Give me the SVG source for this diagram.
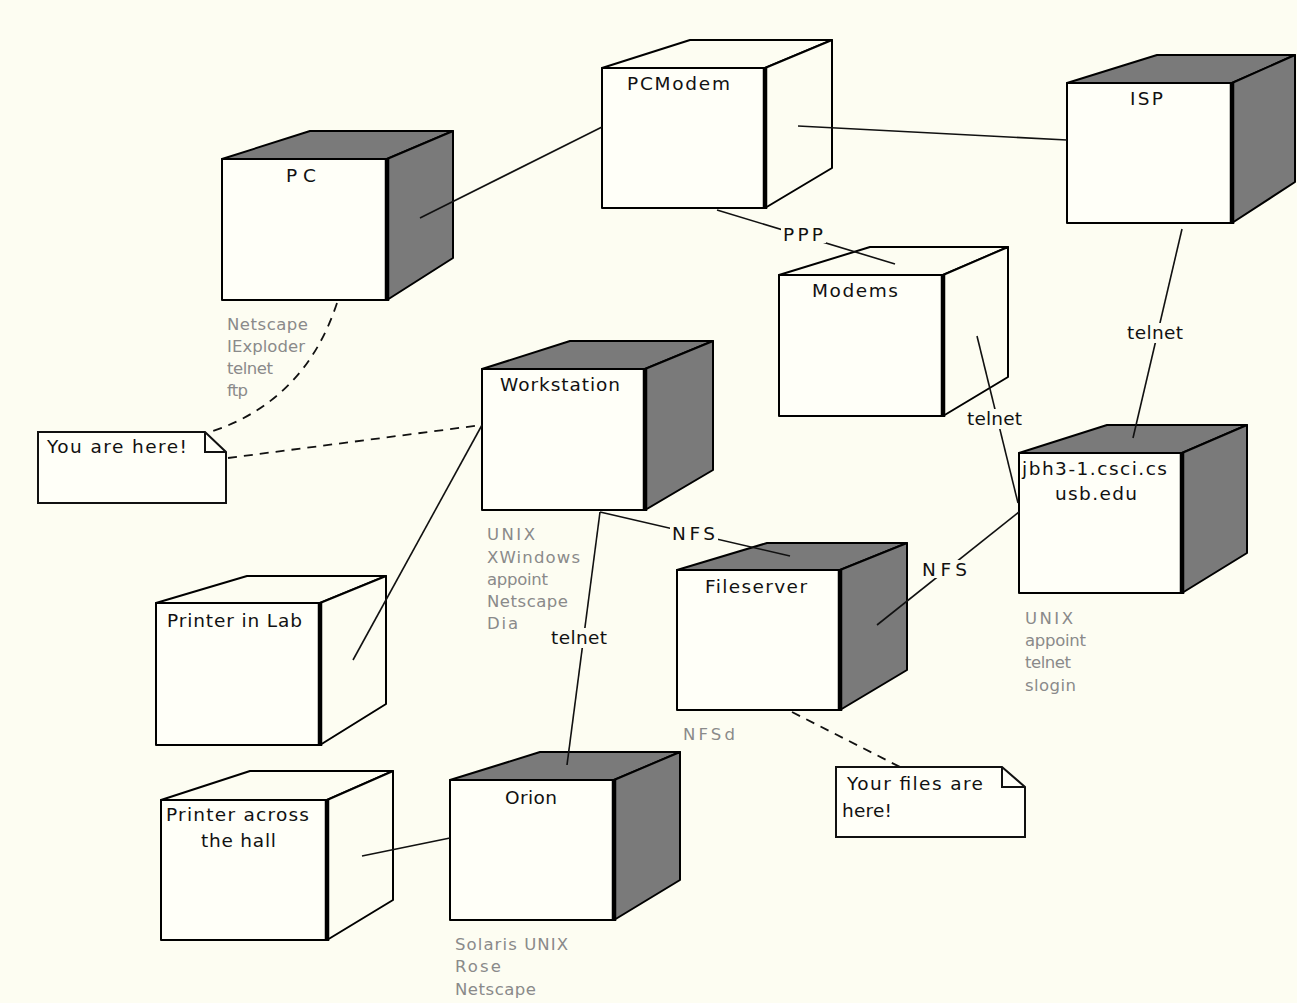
<svg xmlns="http://www.w3.org/2000/svg" width="1297" height="1003" viewBox="0 0 1297 1003">
<style>
.bg{fill:#fdfdf2}
.f{fill:#fffff8;stroke:#000;stroke-width:2;stroke-linejoin:round}
.u{fill:#fdfdf2;stroke:#000;stroke-width:2;stroke-linejoin:round}
.s{fill:#7a7a7a;stroke:#000;stroke-width:2;stroke-linejoin:round}
.e{stroke:#000;stroke-width:4.5}
.lbl{font-family:"DejaVu Sans",sans-serif;font-size:18.5px;fill:#111}
.ann{font-family:"DejaVu Sans",sans-serif;font-size:16.5px;fill:#8a8a8a}
.c{fill:none;stroke:#111;stroke-width:1.6}
.d{fill:none;stroke:#111;stroke-width:1.8;stroke-dasharray:9 7}
.lb{fill:#fdfdf2}
.note{fill:#fffff8;stroke:#111;stroke-width:2}
</style>
<rect class="bg" x="0" y="0" width="1297" height="1003"/>

<g id="pc">
<polygon class="s" points="222,159 310,131 453,131 387,159"/>
<polygon class="s" points="387,159 453,131 453,258 387,300"/>
<rect class="f" x="222" y="159" width="165" height="141"/>
<line class="e" x1="387" y1="159" x2="387" y2="301"/>
<text class="lbl" x="301" y="182" text-anchor="middle" textLength="30">PC</text>
<text class="ann" x="227" y="330" textLength="81">Netscape</text>
<text class="ann" x="227" y="352" textLength="78">IExploder</text>
<text class="ann" x="227" y="374" textLength="46">telnet</text>
<text class="ann" x="227" y="396" textLength="21">ftp</text>
</g>

<g id="pcmodem">
<polygon class="u" points="602,68 690,40 832,40 765,68"/>
<polygon class="u" points="765,68 832,40 832,168 765,208"/>
<rect class="f" x="602" y="68" width="163" height="140"/>
<line class="e" x1="765" y1="68" x2="765" y2="209"/>
<text class="lbl" x="627" y="90" textLength="103">PCModem</text>
</g>

<g id="isp">
<polygon class="s" points="1067,83 1157,55 1295,55 1232,83"/>
<polygon class="s" points="1232,83 1295,55 1295,182 1232,223"/>
<rect class="f" x="1067" y="83" width="165" height="140"/>
<line class="e" x1="1232" y1="83" x2="1232" y2="224"/>
<text class="lbl" x="1130" y="105" textLength="33">ISP</text>
</g>

<g id="modems">
<polygon class="u" points="779,275 870,247 1008,247 943,275"/>
<polygon class="u" points="943,275 1008,247 1008,377 943,416"/>
<rect class="f" x="779" y="275" width="164" height="141"/>
<line class="e" x1="943" y1="275" x2="943" y2="417"/>
<text class="lbl" x="812" y="297" textLength="86">Modems</text>
</g>

<g id="workstation">
<polygon class="s" points="482,369 570,341 713,341 645,369"/>
<polygon class="s" points="645,369 713,341 713,470 645,510"/>
<rect class="f" x="482" y="369" width="163" height="141"/>
<line class="e" x1="645" y1="369" x2="645" y2="511"/>
<text class="lbl" x="500" y="391" textLength="120">Workstation</text>
<text class="ann" x="487" y="540" textLength="48">UNIX</text>
<text class="ann" x="487" y="563" textLength="93">XWindows</text>
<text class="ann" x="487" y="585" textLength="61">appoint</text>
<text class="ann" x="487" y="607" textLength="81">Netscape</text>
<text class="ann" x="487" y="629" textLength="31">Dia</text>
</g>

<g id="jbh3">
<polygon class="s" points="1019,453 1107,425 1247,425 1182,453"/>
<polygon class="s" points="1182,453 1247,425 1247,553 1182,593"/>
<rect class="f" x="1019" y="453" width="163" height="140"/>
<line class="e" x1="1182" y1="453" x2="1182" y2="594"/>
<text class="lbl" x="1022" y="475" textLength="145">jbh3-1.csci.cs</text>
<text class="lbl" x="1055" y="500" textLength="82">usb.edu</text>
<text class="ann" x="1025" y="624" textLength="48">UNIX</text>
<text class="ann" x="1025" y="646" textLength="61">appoint</text>
<text class="ann" x="1025" y="668" textLength="46">telnet</text>
<text class="ann" x="1025" y="691" textLength="51">slogin</text>
</g>

<g id="fileserver">
<polygon class="s" points="677,570 767,543 907,543 840,570"/>
<polygon class="s" points="840,570 907,543 907,670 840,710"/>
<rect class="f" x="677" y="570" width="163" height="140"/>
<line class="e" x1="840" y1="570" x2="840" y2="711"/>
<text class="lbl" x="705" y="593" textLength="102">Fileserver</text>
<text class="ann" x="683" y="740" textLength="52">NFSd</text>
</g>

<g id="printer-lab">
<polygon class="u" points="156,603 247,576 386,576 320,603"/>
<polygon class="u" points="320,603 386,576 386,704 320,745"/>
<rect class="f" x="156" y="603" width="164" height="142"/>
<line class="e" x1="320" y1="603" x2="320" y2="746"/>
<text class="lbl" x="167" y="627" textLength="135">Printer in Lab</text>
</g>

<g id="printer-hall">
<polygon class="u" points="161,800 250,771 393,771 327,800"/>
<polygon class="u" points="327,800 393,771 393,900 327,940"/>
<rect class="f" x="161" y="800" width="166" height="140"/>
<line class="e" x1="327" y1="800" x2="327" y2="941"/>
<text class="lbl" x="166" y="821" textLength="143">Printer across</text>
<text class="lbl" x="201" y="847" textLength="75">the hall</text>
</g>

<g id="orion">
<polygon class="s" points="450,780 540,752 680,752 614,780"/>
<polygon class="s" points="614,780 680,752 680,880 614,920"/>
<rect class="f" x="450" y="780" width="164" height="140"/>
<line class="e" x1="614" y1="780" x2="614" y2="921"/>
<text class="lbl" x="505" y="804" textLength="52">Orion</text>
<text class="ann" x="455" y="950" textLength="113">Solaris UNIX</text>
<text class="ann" x="455" y="972" textLength="46">Rose</text>
<text class="ann" x="455" y="995" textLength="81">Netscape</text>
</g>

<g id="note-here">
<path class="note" d="M38,432 L205,432 L226,452 L226,503 L38,503 Z"/>
<path fill="none" stroke="#111" stroke-width="2" d="M205,432 L205,452 L226,452"/>
<text class="lbl" x="47" y="453" textLength="140">You are here!</text>
</g>

<g id="note-files">
<path class="note" d="M836,767 L1002,767 L1025,787 L1025,837 L836,837 Z"/>
<path fill="none" stroke="#111" stroke-width="2" d="M1002,767 L1002,787 L1025,787"/>
<text class="lbl" x="847" y="790" textLength="136">Your files are</text>
<text class="lbl" x="842" y="817" textLength="50">here!</text>
</g>

<g id="connectors">
<line class="c" x1="420" y1="218" x2="602" y2="127"/>
<line class="c" x1="798" y1="126" x2="1067" y2="140"/>
<line class="c" x1="717" y1="210" x2="895" y2="264"/>
<line class="c" x1="977" y1="336" x2="1018" y2="503"/>
<line class="c" x1="1182" y1="229" x2="1133" y2="438"/>
<line class="c" x1="600" y1="512" x2="790" y2="556"/>
<line class="c" x1="877" y1="625" x2="1019" y2="512"/>
<line class="c" x1="600" y1="512" x2="567" y2="765"/>
<line class="c" x1="482" y1="425" x2="353" y2="660"/>
<line class="c" x1="362" y1="856" x2="450" y2="838"/>
<path class="d" d="M337,303 Q305,400 213,431"/>
<path class="d" d="M228,458 L482,425"/>
<path class="d" d="M792,712 L900,767"/>
<rect class="lb" x="781" y="225" width="45" height="18"/>
<text class="lbl" x="783" y="241" textLength="40">PPP</text>
<rect class="lb" x="965" y="409" width="60" height="20"/>
<text class="lbl" x="967" y="425" textLength="55">telnet</text>
<rect class="lb" x="1125" y="323" width="60" height="20"/>
<text class="lbl" x="1127" y="339" textLength="56">telnet</text>
<rect class="lb" x="670" y="524" width="48" height="18"/>
<text class="lbl" x="672" y="540" textLength="43">NFS</text>
<rect class="lb" x="920" y="560" width="50" height="18"/>
<text class="lbl" x="922" y="576" textLength="45">NFS</text>
<rect class="lb" x="549" y="628" width="60" height="20"/>
<text class="lbl" x="551" y="644" textLength="56">telnet</text>
</g>
</svg>
